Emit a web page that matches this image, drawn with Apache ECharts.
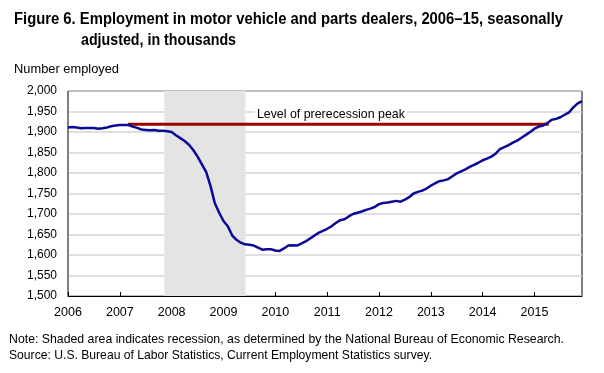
<!DOCTYPE html>
<html><head><meta charset="utf-8">
<script src="https://cdn.jsdelivr.net/npm/echarts@6/dist/echarts.min.js"></script>
<style>html,body{margin:0;padding:0;background:#fff}#c{width:604px;height:373px}</style>
</head><body><div id="c"></div>
<script>
// Month index 0 = Jan 2006 ... 119 = Dec 2015
const yearLabels = ['2006','2007','2008','2009','2010','2011','2012','2013','2014','2015'];
const employment = [
  1911,1912,1911,1909,1910,1910,1910,1908,1909,1911,1914,1916,
  1917,1917,1917,1913,1910,1906,1905,1904,1905,1903,1903,1902,
  1900,1892,1885,1878,1869,1856,1840,1821,1802,1768,1726,1703,
  1683,1670,1648,1637,1630,1626,1625,1623,1618,1613,1614,1614,
  1611,1610,1616,1623,1624,1623,1628,1633,1640,1647,1654,1659,
  1664,1670,1678,1685,1687,1694,1700,1703,1706,1710,1713,1717,
  1724,1727,1728,1730,1732,1730,1735,1741,1750,1754,1757,1762,
  1769,1775,1780,1782,1785,1792,1799,1804,1809,1815,1820,1825,
  1831,1835,1840,1847,1858,1863,1868,1874,1879,1886,1893,1900,
  1908,1913,1916,1922,1930,1932,1936,1942,1948,1960,1970,1975
];
const peakLevel = 1919;
const peakSpan = [13.9, 111.3];        // month indices where the peak line runs
const recession = [22.3, 41.1];        // Dec 2007 – Jun 2009 (month indices)
const yTicks = {min:1500, max:2000, step:50};
const titleLines = ['Figure 6. Employment in motor vehicle and parts dealers, 2006\u201315, seasonally', 'adjusted, in thousands'];
const yAxisName = 'Number employed';
const peakLabel = 'Level of prerecession peak';
const notes = ['Note: Shaded area indicates recession, as determined by the National Bureau of Economic Research.',
               'Source: U.S. Bureau of Labor Statistics, Current Employment Statistics survey.'];

const FONT = "'Liberation Sans',Arial,sans-serif";
const ctx = document.createElement('canvas').getContext('2d');
function fitText(text, font, x, yMid, targetW, extra){
  ctx.font = font;
  const w = ctx.measureText(text).width;
  return Object.assign({type:'text', x:x, y:yMid, scaleX: targetW / w, originX:0, originY:0, z:100,
    style:{text:text, font:font, fill:'#000', textVerticalAlign:'middle', verticalAlign:'middle'}}, extra||{});
}

const chart = echarts.init(document.getElementById('c'), null, {renderer:'canvas'});
const lineData = employment.map((v,i)=>[i,v]);
const peakText = fitText(peakLabel, "13px "+FONT, 255, 114, 148);
peakText.style.backgroundColor = '#fff';
peakText.style.padding = [1,2];
chart.setOption({
  animation:false,
  backgroundColor:'#fff',
  grid:{left:68, right:22, top:91, bottom:77, show:true, borderColor:'#000', borderWidth:1, backgroundColor:'transparent'},
  xAxis:{type:'value', min:0, max:119, interval:12,
    axisLine:{show:true, lineStyle:{color:'#000', width:1}},
    axisTick:{show:true, inside:true, length:4, lineStyle:{color:'#000'}},
    splitLine:{show:false},
    axisLabel:{fontFamily:FONT, fontSize:12.5, color:'#000', margin:10, showMaxLabel:false,
      formatter:v=> (v%12===0 && yearLabels[v/12]) ? yearLabels[v/12] : ''}},
  yAxis:{type:'value', min:yTicks.min, max:yTicks.max, interval:yTicks.step,
    axisLine:{show:true, lineStyle:{color:'#808080', width:1}},
    axisTick:{show:false},
    splitLine:{show:true, lineStyle:{color:'#d4d4d4', width:1.5}},
    axisLabel:{fontFamily:FONT, fontSize:12, color:'#000', margin:11,
      formatter:v=>v.toLocaleString('en-US')}},
  series:[
    {type:'line', data:lineData, showSymbol:false, symbol:'none', z:3,
     lineStyle:{color:'#0a0a96', width:2.5},
     markArea:{silent:true, itemStyle:{color:'#e4e4e4', opacity:1}, data:[[{xAxis:recession[0]},{xAxis:recession[1]}]]}},
    {type:'line', data:[[peakSpan[0],peakLevel],[peakSpan[1],peakLevel]], showSymbol:false, symbol:'none', z:2,
     lineStyle:{color:'#990000', width:3}}
  ],
  graphic:[
    fitText(titleLines[0], "bold 16px "+FONT, 14, 20, 549),
    fitText(titleLines[1], "bold 16px "+FONT, 81, 41, 155),
    fitText(yAxisName, "13px "+FONT, 14, 69, 105),
    peakText,
    fitText(notes[0], "13px "+FONT, 9, 339, 555),
    fitText(notes[1], "13px "+FONT, 9, 355, 423)
  ]
});
</script></body></html>
